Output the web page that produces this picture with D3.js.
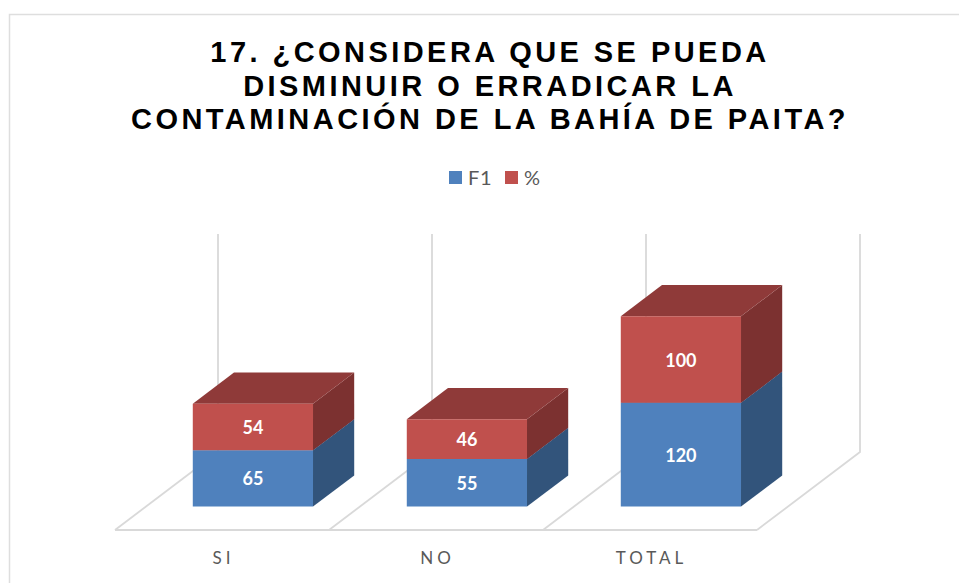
<!DOCTYPE html>
<html>
<head>
<meta charset="utf-8">
<script src="https://cdnjs.cloudflare.com/ajax/libs/d3/7.8.5/d3.min.js"></script>
<style>
html, body { margin: 0; padding: 0; background: #fff; overflow: hidden; }
</style>
</head>
<body>
<script>
//values
var categories = ["SI", "NO", "TOTAL"];
var seriesNames = ["F1", "%"];
var f1Values = [65, 55, 120];
var pctValues = [54, 46, 100];
var titleLines = ["17. ¿CONSIDERA QUE SE PUEDA", "DISMINUIR O ERRADICAR LA", "CONTAMINACIÓN DE LA BAHÍA DE PAITA?"];

//colors: front, top, side of each series
var colors = {
    "F1": { front: "#4f81bd", top: "#3f6797", side: "#32547b" },
    "%": { front: "#c0504d", top: "#8f3a39", side: "#7c3130" }
};

var w = 959;
var h = 583;

var svg = d3.select("body").append("svg")
    .attr("width", w)
    .attr("height", h)
    .style("display", "block");

//chart frame, cut off by the picture on the right and at the bottom
svg.append("path")
    .attr("d", "M9.5,583V14.5H959")
    .attr("fill", "none")
    .attr("stroke", "#dedede")
    .attr("stroke-width", 1.5);

//title
svg.append("text")
    .attr("text-anchor", "middle")
    .attr("font-family", "Liberation Sans")
    .attr("font-weight", "bold")
    .attr("font-size", 29)
    .attr("letter-spacing", 3.45)
    .attr("fill", "#000")
    .selectAll("tspan")
    .data(titleLines)
    .enter()
    .append("tspan")
    .attr("x", 490)
    .attr("y", function(d, i) { return 62 + i * 33.7; })
    .text(function(d) { return d; });

//legend
var legendX = d3.scaleOrdinal().domain(seriesNames).range([449, 505]);
var legend = svg.selectAll(".legend")
    .data(seriesNames)
    .enter()
    .append("g")
    .attr("class", "legend")
    .attr("transform", function(d) { return "translate(" + legendX(d) + ",171)"; });
legend.append("rect")
    .attr("width", 13)
    .attr("height", 13)
    .attr("fill", function(d) { return colors[d].front; });
legend.append("text")
    .attr("x", 19)
    .attr("y", 13.5)
    .attr("font-family", "Lato")
    .attr("font-size", 20)
    .attr("letter-spacing", 0.8)
    .attr("fill", "#595959")
    .text(function(d) { return d; });

//scales: x across the categories, y up the wall, z into the picture
var x = d3.scaleBand().domain(categories).range([115, 757]);
var y = d3.scaleLinear().domain([0, 252]).range([0, 218]);
var floorY = 530;
var zx = d3.scaleLinear().domain([0, 1]).range([0, 103]);
var zy = d3.scaleLinear().domain([0, 1]).range([0, 78]);
var barInner = d3.scaleBand().domain([0]).range([0, x.bandwidth()]).paddingOuter(0.39);

//turns a (x, value, depth) point into screen coordinates
function project(px, v, z) {
    return [px + zx(z), floorY - zy(z) - y(v)];
}

var lineGen = d3.line();
var gridColor = "#d9d9d9";

//floor lines and wall lines
var bounds = x.domain().map(function(c) { return x(c); }).concat([x.range()[1]]);
var grid = svg.append("g")
    .attr("fill", "none")
    .attr("stroke", gridColor)
    .attr("stroke-width", 1.8);
bounds.forEach(function(b) {
    grid.append("path").attr("d", lineGen([project(b, 0, 0), project(b, 0, 1), project(b, y.domain()[1], 1)]));
});
grid.append("path").attr("d", lineGen([project(x.range()[0], 0, 0), project(x.range()[1], 0, 0)]));

//stack the two series
var rows = categories.map(function(c, i) {
    return { cat: c, "F1": f1Values[i], "%": pctValues[i] };
});
var stacked = d3.stack().keys(seriesNames)(rows);

var depthFront = 0.30;
var depthBack = 0.70;

//a face of a bar as a polygon
function facePath(pts) {
    return lineGen(pts) + "Z";
}

stacked.forEach(function(layer) {
    var c = colors[layer.key];
    var g = svg.append("g");
    layer.forEach(function(d) {
        var x0 = x(d.data.cat) + barInner(0);
        var x1 = x0 + barInner.bandwidth();
        var faces = [
            { fill: c.side, pts: [project(x1, d[0], depthFront), project(x1, d[0], depthBack), project(x1, d[1], depthBack), project(x1, d[1], depthFront)] },
            { fill: c.top, pts: [project(x0, d[1], depthFront), project(x0, d[1], depthBack), project(x1, d[1], depthBack), project(x1, d[1], depthFront)] },
            { fill: c.front, pts: [project(x0, d[0], depthFront), project(x1, d[0], depthFront), project(x1, d[1], depthFront), project(x0, d[1], depthFront)] }
        ];
        g.selectAll(null)
            .data(faces)
            .enter()
            .append("path")
            .attr("d", function(f) { return facePath(f.pts); })
            .attr("fill", function(f) { return f.fill; });
    });
});

//value labels
stacked.forEach(function(layer) {
    svg.append("g").selectAll("text")
        .data(layer)
        .enter()
        .append("text")
        .attr("text-anchor", "middle")
        .attr("font-family", "Lato")
        .attr("font-weight", "bold")
        .attr("font-size", 18)
        .attr("fill", "#fff")
        .attr("x", function(d) {
            return project(x(d.data.cat) + x.bandwidth() / 2, 0, depthFront)[0];
        })
        .attr("y", function(d) {
            return project(0, (d[0] + d[1]) / 2, depthFront)[1] + 7;
        })
        .text(function(d) { return d[1] - d[0]; });
});

//category labels
svg.append("g").selectAll("text")
    .data(categories)
    .enter()
    .append("text")
    .attr("text-anchor", "middle")
    .attr("font-family", "Lato")
    .attr("font-size", 17)
    .attr("letter-spacing", 4)
    .attr("fill", "#595959")
    .attr("x", function(d) { return x(d) + x.bandwidth() / 2 + 1.5; })
    .attr("y", 564)
    .text(function(d) { return d; });
</script>
</body>
</html>
